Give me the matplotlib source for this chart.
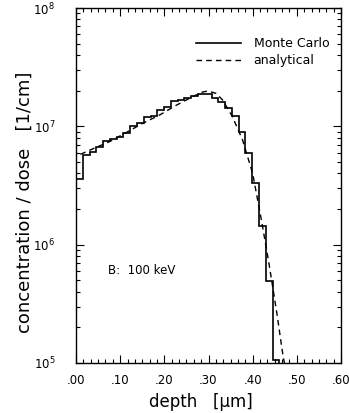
import numpy as np
import matplotlib
matplotlib.use("Agg")
import matplotlib.pyplot as plt
from matplotlib.ticker import FixedLocator, LogLocator, NullFormatter, FuncFormatter

# Monte Carlo histogram (bin width in µm, concentration/dose in 1/cm)
bin_width = 0.01535
mc_values = [3.57e6, 5.73e6, 6.1e6, 6.73e6, 7.53e6, 7.83e6, 8.2e6, 8.85e6,
             1.01e7, 1.07e7, 1.19e7, 1.23e7, 1.38e7, 1.47e7, 1.64e7, 1.67e7,
             1.75e7, 1.81e7, 1.87e7, 1.87e7, 1.73e7, 1.62e7, 1.42e7, 1.22e7,
             9.0e6, 6.0e6, 3.3e6, 1.43e6, 4.93e5, 1.07e5]

# Analytical profile
an_depth = [0.010, 0.040, 0.075, 0.110, 0.151, 0.190, 0.226, 0.264, 0.285,
            0.298, 0.317, 0.332, 0.354, 0.377, 0.400, 0.420, 0.437, 0.455,
            0.469, 0.472]
an_values = [5.8e6, 6.5e6, 7.4e6, 8.7e6, 1.06e7, 1.25e7, 1.50e7, 1.78e7, 1.94e7,
             1.99e7, 1.90e7, 1.67e7, 1.21e7, 7.7e6, 4.0e6, 1.6e6, 6.9e5, 2.6e5,
             1.13e5, 1.0e5]

x_major = [0.0, 0.1, 0.2, 0.3, 0.4, 0.5, 0.6]
x_labels = [".00", ".10", ".20", ".30", ".40", ".50", ".60"]

fig = plt.figure(figsize=(3.49, 4.13), dpi=100)
ax = fig.add_axes([76/349, 1-363/413, 265/349, 355/413])

edges = np.arange(len(mc_values) + 1) * bin_width
ax.stairs(mc_values, edges, baseline=1e5, color="black", lw=1.2, label="Monte Carlo")
ax.plot(an_depth, an_values, color="black", lw=1.0, ls=(0, (4, 3)), label="analytical")

ax.set_yscale("log")
ax.set_xlim(0, 0.6)
ax.set_ylim(1e5, 1e8)

ax.xaxis.set_major_locator(FixedLocator(x_major))
ax.set_xticklabels(x_labels)
ax.xaxis.set_minor_locator(FixedLocator(np.arange(0, 37) * 0.1 / 6))
ax.yaxis.set_major_locator(LogLocator(base=10, numticks=10))
ax.yaxis.set_minor_locator(LogLocator(base=10, subs=np.arange(2, 10), numticks=20))
ax.yaxis.set_minor_formatter(NullFormatter())
ax.yaxis.set_major_formatter(FuncFormatter(lambda v, p: r"$10^{%d}$" % round(np.log10(v))))

ax.tick_params(which="both", direction="in", top=True, right=True, width=0.8,
               labelsize=8.5)
ax.tick_params(axis="x", pad=8)
ax.tick_params(axis="y", pad=15)
ax.tick_params(which="major", length=6)
ax.tick_params(which="minor", length=3)
for s in ax.spines.values():
    s.set_linewidth(1.0)

ax.set_xlabel("depth   [µm]", fontsize=12)
ax.set_ylabel("concentration / dose   [1/cm]", fontsize=13)
ax.xaxis.set_label_coords(0.472, -0.085)
ax.yaxis.set_label_coords(-0.16, 0.453)

ax.text(0.072, 6.1e5, "B:  100 keV", fontsize=8.5, va="center", ha="left")

ax.legend(loc="upper left", bbox_to_anchor=(0.43, 0.935), frameon=False,
          fontsize=9, handlelength=3.6, handletextpad=1.0, labelspacing=0.3,
          borderpad=0)

fig.savefig("out.png", dpi=100)
